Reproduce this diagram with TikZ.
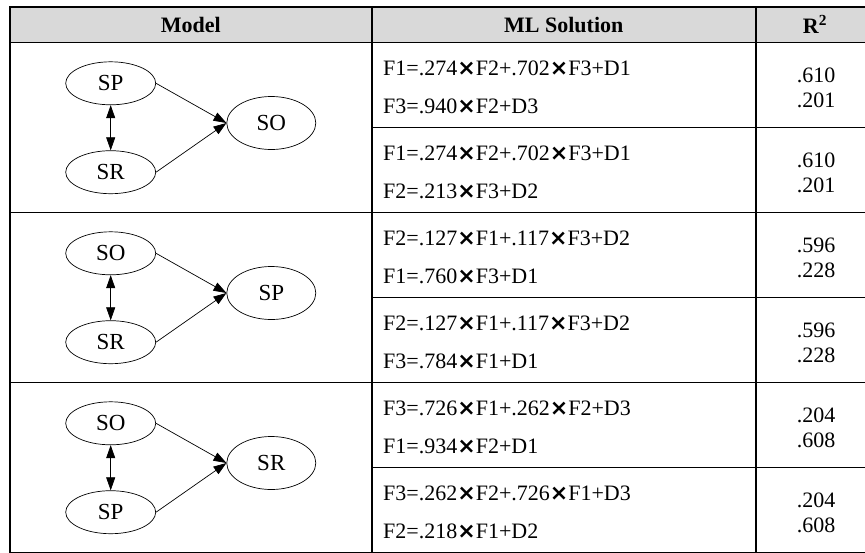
\documentclass[tikz,border=0pt]{standalone}
\usepackage{fontspec}
\setmainfont{Liberation Serif}
\newfontfamily\djv{DejaVu Sans}
\usetikzlibrary{arrows.meta,shapes.geometric}
\definecolor{hdr}{HTML}{D9D9D9}
\newcommand\mx{{\djv\bfseries ×}}
\begin{document}
\begin{tikzpicture}[x=1pt,y=-1pt,
  tline/.style={line width=1.8pt},
  var/.style={draw, ellipse, line width=0.7pt, minimum width=90pt, minimum height=43pt, inner sep=0pt, font=\fontsize{23}{26}\selectfont},
  dep/.style={var, minimum width=89pt, minimum height=53pt},
  pathar/.style={-{Triangle[length=13pt,width=9pt]}, line width=0.7pt},
  corr/.style={{Triangle[length=13pt,width=9pt]}-{Triangle[length=13pt,width=9pt]}, line width=0.7pt},
  eq/.style={anchor=base west, font=\fontsize{22}{26}\selectfont, inner sep=0pt},
  hd/.style={font=\fontsize{22}{26}\selectfont\bfseries, inner sep=0pt},
  rsq/.style={anchor=base, font=\fontsize{22}{26}\selectfont, inner sep=0pt}]
\useasboundingbox (0,0) rectangle (865,552);
% header
\fill[hdr] (10,6.7) rectangle (874,42.5);
\node[hd] (h1) at (190.8,24.6) {Model};
\node[hd] (h2) at (563.8,24.6) {ML Solution};
\node[hd] (h3) at (815,24.6) {R\textsuperscript{2}};
% table lines
\draw[tline] (10,6.7) rectangle (874,552.5);
\foreach \yy in {42.5,212.5,382.5} \draw[tline] (10,\yy) -- (874,\yy);
\foreach \yy in {127.5,297.5,467.5} \draw[tline] (371.7,\yy) -- (874,\yy);
\draw[tline] (371.7,6.7) -- (371.7,552.5);
\draw[tline] (756,6.7) -- (756,552.5);
% model 1
\node[var] (a1) at (110.7,83.3) {SP};
\node[var] (b1) at (110.7,172.2) {SR};
\node[dep] (c1) at (271.3,123) {SO};
\draw[pathar] (a1.east) -- (c1.west);
\draw[pathar] (b1.east) -- (c1.west);
\draw[corr] (a1.south) -- (b1.north);
% model 2
\node[var] (a2) at (110.7,253.3) {SO};
\node[var] (b2) at (110.7,342.2) {SR};
\node[dep] (c2) at (271.3,293) {SP};
\draw[pathar] (a2.east) -- (c2.west);
\draw[pathar] (b2.east) -- (c2.west);
\draw[corr] (a2.south) -- (b2.north);
% model 3
\node[var] (a3) at (110.7,423.3) {SO};
\node[var] (b3) at (110.7,512.2) {SP};
\node[dep] (c3) at (271.3,463) {SR};
\draw[pathar] (a3.east) -- (c3.west);
\draw[pathar] (b3.east) -- (c3.west);
\draw[corr] (a3.south) -- (b3.north);
% equations
\node[eq] (e11) at (383,75.5) {F1=.274\mx F2+.702\mx F3+D1};
\node[eq] (e12) at (383,113.5) {F3=.940\mx F2+D3};
\node[eq] (e21) at (383,160.5) {F1=.274\mx F2+.702\mx F3+D1};
\node[eq] (e22) at (383,198.5) {F2=.213\mx F3+D2};
\node[eq] (e31) at (383,245.5) {F2=.127\mx F1+.117\mx F3+D2};
\node[eq] (e32) at (383,283.5) {F1=.760\mx F3+D1};
\node[eq] (e41) at (383,330.5) {F2=.127\mx F1+.117\mx F3+D2};
\node[eq] (e42) at (383,368.5) {F3=.784\mx F1+D1};
\node[eq] (e51) at (383,415.5) {F3=.726\mx F1+.262\mx F2+D3};
\node[eq] (e52) at (383,453.5) {F1=.934\mx F2+D1};
\node[eq] (e61) at (383,500.5) {F3=.262\mx F2+.726\mx F1+D3};
\node[eq] (e62) at (383,538.5) {F2=.218\mx F1+D2};
% R2 values
\node[rsq] (r11) at (816,82.5) {.610};
\node[rsq] (r12) at (816,107.5) {.201};
\node[rsq] (r21) at (816,167.5) {.610};
\node[rsq] (r22) at (816,192.5) {.201};
\node[rsq] (r31) at (816,252.5) {.596};
\node[rsq] (r32) at (816,277.5) {.228};
\node[rsq] (r41) at (816,337.5) {.596};
\node[rsq] (r42) at (816,362.5) {.228};
\node[rsq] (r51) at (816,422.5) {.204};
\node[rsq] (r52) at (816,447.5) {.608};
\node[rsq] (r61) at (816,507.5) {.204};
\node[rsq] (r62) at (816,532.5) {.608};
\end{tikzpicture}
\end{document}
